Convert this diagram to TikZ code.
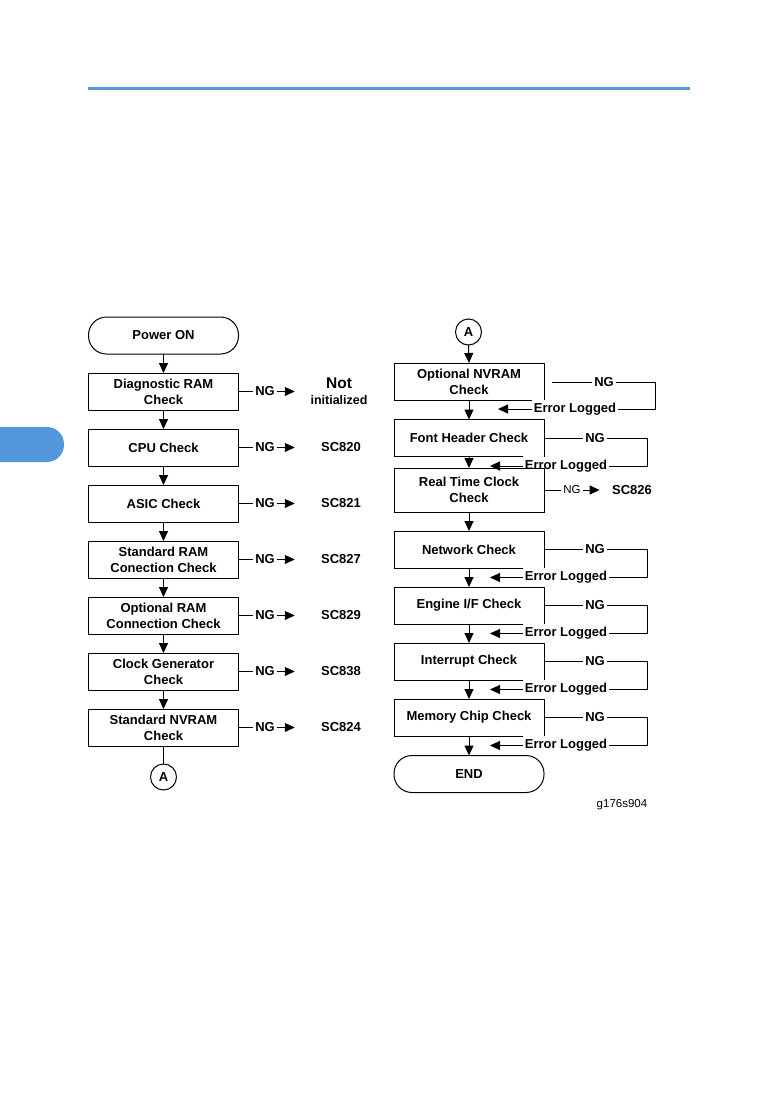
\documentclass[tikz,border=0pt]{standalone}
\usepackage{fontspec}
\setmainfont{Liberation Sans}
\usetikzlibrary{arrows.meta}
\definecolor{tabblue}{RGB}{83,150,220}
\begin{document}
\begin{tikzpicture}[x=1pt,y=-1pt,
  every node/.style={inner sep=0pt, outer sep=0pt},
  box/.style={draw, line width=1pt, minimum width=150pt, minimum height=37pt, align=center, font=\bfseries\fontsize{13}{16}\selectfont},
  openbox/.style={box, draw=none},
  term/.style={box, rounded corners=18pt},
  conn/.style={draw, circle, line width=1pt, minimum size=26pt, font=\bfseries\fontsize{13}{15}\selectfont},
  lbl/.style={font=\bfseries\fontsize{13}{15}\selectfont, inner sep=2pt},
  res/.style={font=\bfseries\fontsize{13}{16}\selectfont, align=center},
  ln/.style={line width=1pt},
  arr/.style={line width=1pt, -{Triangle[length=10pt,width=9pt]}},
]
\useasboundingbox (0,0) rectangle (777,1102);

% page decorations
\draw[tabblue, line width=3pt] (88,89) -- (690,89);
\fill[tabblue] (0,427) [rounded corners=17pt] -- (64,427) -- (64,462) [sharp corners] -- (0,462) -- cycle;

% ---------------- left column ----------------
\node[term] (pon) at (163.5,335.5) {Power ON};
\node[box] (b1) at (163.5,391.5) {Diagnostic RAM\\Check};
\node[box] (b2) at (163.5,447.5) {CPU Check};
\node[box] (b3) at (163.5,503.5) {ASIC Check};
\node[box] (b4) at (163.5,559.5) {Standard RAM\\Conection Check};
\node[box] (b5) at (163.5,615.5) {Optional RAM\\Connection Check};
\node[box] (b6) at (163.5,671.5) {Clock Generator\\Check};
\node[box] (b7) at (163.5,727.5) {Standard NVRAM\\Check};
\node[conn] (a1) at (163.5,777) {A};

\draw[arr] (pon.south) -- (b1.north);
\draw[arr] (b1.south) -- (b2.north);
\draw[arr] (b2.south) -- (b3.north);
\draw[arr] (b3.south) -- (b4.north);
\draw[arr] (b4.south) -- (b5.north);
\draw[arr] (b5.south) -- (b6.north);
\draw[arr] (b6.south) -- (b7.north);
\draw[ln] (b7.south) -- (a1.north);

\node[res] (r1) at (339,391.5) {{\fontsize{15.5}{16}\selectfont Not}\\{\fontsize{12.5}{16}\selectfont initialized}};
\node[res] (r2) at (341,447.5) {SC820};
\node[res] (r3) at (341,503.5) {SC821};
\node[res] (r4) at (341,559.5) {SC827};
\node[res] (r5) at (341,615.5) {SC829};
\node[res] (r6) at (341,671.5) {SC838};
\node[res] (r7) at (341,727.5) {SC824};

\foreach \i/\y in {1/391.5,2/447.5,3/503.5,4/559.5,5/615.5,6/671.5,7/727.5}{
  \node[lbl] (ng\i) at (265,\y) {NG};
  \draw[ln] (b\i.east) -- (ng\i.west);
  \draw[arr] (ng\i.east) -- ++(18,0);
}

% ---------------- right column ----------------
\node[conn] (a2) at (468.5,332) {A};
\node[openbox] (onv) at (469,381.5) {Optional NVRAM\\Check};
\node[openbox] (fh) at (469,438) {Font Header Check};
\node[box, minimum height=44pt] (rtc) at (469,490) {Real Time Clock\\Check};
\node[openbox] (net) at (469,549.5) {Network Check};
\node[openbox] (eng) at (469,605.5) {Engine I/F Check};
\node[openbox] (intr) at (469,661.5) {Interrupt Check};
\node[openbox] (mem) at (469,717.5) {Memory Chip Check};
\node[term] (end) at (469,774) {END};

\foreach \n/\g in {onv/12,fh/21,net/21,eng/21,intr/21,mem/21}{
  \draw[ln] (\n.south west) -- (\n.north west) -- (\n.north east) -- (\n.south east);
  \draw[ln] (\n.south west) -- ([xshift=-\g pt]\n.south east);
}

\draw[arr] (a2.south) -- (onv.north);
\draw[arr] (onv.south) -- (fh.north);
\draw[arr] (fh.south) -- (rtc.north);
\draw[arr] (rtc.south) -- (net.north);
\draw[arr] (net.south) -- (eng.north);
\draw[arr] (eng.south) -- (intr.north);
\draw[arr] (intr.south) -- (mem.north);
\draw[arr] (mem.south) -- (end.north);

% NVRAM loop
\node[lbl] (ngo) at (604,382) {NG};
\node[lbl] (elo) at (575,409) {Error Logged};
\coordinate (so) at (552,382);
\coordinate (rco) at (655,382);
\coordinate (tipo) at (498,409);
\draw[ln] (so) -- (ngo.west);
\draw[ln] (ngo.east) -- (rco) |- (elo.east);
\draw[arr] (elo.west) -- (tipo);

% other loops
\foreach \n/\y in {fh/438,net/549.5,eng/605.5,intr/661.5,mem/717.5}{
  \node[lbl] (ng-\n) at (595,\y) {NG};
  \node[lbl] (el-\n) at (566,\y+28) {Error Logged};
  \coordinate (rc-\n) at (647,\y);
  \coordinate (tip-\n) at (490,\y+28);
  \draw[ln] (\n.east) -- (ng-\n.west);
  \draw[ln] (ng-\n.east) -- (rc-\n) |- (el-\n.east);
  \draw[arr] (el-\n.west) -- (tip-\n);
}

% RTC
\node[font=\fontsize{11.5}{13}\selectfont, inner sep=2pt] (ngrtc) at (572,490) {NG};
\node[res] (sc826) at (632,490) {SC826};
\draw[ln] (rtc.east) -- (ngrtc.west);
\draw[arr] (ngrtc.east) -- ++(17,0);

\node[font=\fontsize{11.5}{13}\selectfont] (fig) at (622,805) {g176s904};
\end{tikzpicture}
\end{document}
